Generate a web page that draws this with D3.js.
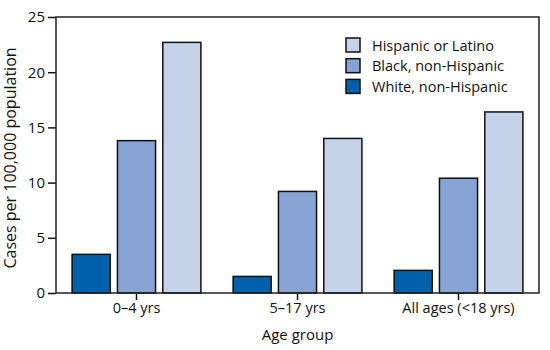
<!DOCTYPE html>
<html lang="en">
<head>
<meta charset="utf-8">
<script src="https://d3js.org/d3.v7.min.js"></script>
<style>
  body { margin: 0; background: #fff; }
  text { font-family: "Open Sans", "Noto Sans", sans-serif; fill: #111; }
</style>
</head>
<body>
<svg id="chart" width="550" height="350"></svg>
<script>
// data
const ageGroups = ["0–4 yrs", "5–17 yrs", "All ages (<18 yrs)"];
const groups = ["White, non-Hispanic", "Black, non-Hispanic", "Hispanic or Latino"];
const white = [3.5, 1.5, 2.05];
const black = [13.8, 9.2, 10.4];
const hispanic = [22.7, 14.0, 16.4];
const yTicks = [0, 5, 10, 15, 20, 25];

const colors = ["#0060ab", "#87a3d4", "#c6d2ea"];
const series = [white, black, hispanic];

const margin = {top: 17, right: 11, bottom: 57, left: 56},
    width = 550 - margin.left - margin.right,
    height = 350 - margin.top - margin.bottom;

const svg = d3.select("#chart")
  .append("g")
    .attr("transform", `translate(${margin.left},${margin.top})`);

const x = d3.scaleBand().domain(ageGroups).range([0, width]).paddingInner(0.2).paddingOuter(0.1);
const xSub = d3.scaleBand().domain(groups).range([0, x.bandwidth()]).paddingInner(0.16);
const y = d3.scaleLinear().domain([0, 25]).range([height, 0]);

// y axis
const yAxis = svg.append("g")
  .call(d3.axisLeft(y).tickValues(yTicks).tickSize(8).tickPadding(3));
yAxis.select(".domain").remove();
yAxis.selectAll("line").attr("stroke", "#111").attr("stroke-width", 1.5);
yAxis.selectAll("text").style("font-size", "15px").attr("fill", "#111")
  .style("font-family", "'Open Sans', sans-serif");

// x axis ticks
const xAxis = svg.append("g")
  .attr("transform", `translate(0,${height})`)
  .call(d3.axisBottom(x).tickSize(7).tickPadding(3));
xAxis.select(".domain").remove();
xAxis.selectAll("line").attr("stroke", "#111").attr("stroke-width", 1.5);
xAxis.selectAll("text").style("font-size", "14.5px").attr("fill", "#111")
  .style("font-family", "'Open Sans', sans-serif");

// bars
const data = [];
ageGroups.forEach((a, i) => {
  groups.forEach((g, j) => data.push({age: a, group: g, value: series[j][i], color: colors[j]}));
});

svg.selectAll(".bar")
  .data(data)
  .join("rect")
    .attr("class", "bar")
    .attr("x", d => x(d.age) + xSub(d.group))
    .attr("width", xSub.bandwidth())
    .attr("y", d => y(d.value))
    .attr("height", d => height - y(d.value))
    .attr("fill", d => d.color)
    .attr("stroke", "#111")
    .attr("stroke-width", 1.5);

// frame
svg.append("rect")
  .attr("width", width).attr("height", height)
  .attr("fill", "none").attr("stroke", "#222").attr("stroke-width", 1.5);

// legend (reversed order)
const legend = svg.append("g").attr("transform", `translate(${290},${21})`);
groups.slice().reverse().forEach((g, i) => {
  const row = legend.append("g").attr("transform", `translate(0,${i * 20.7})`);
  row.append("rect").attr("width", 14).attr("height", 14)
    .attr("fill", colors[2 - i]).attr("stroke", "#111").attr("stroke-width", 1.5);
  row.append("text").attr("x", 26).attr("y", 12.5).style("font-size", "14.5px").text(g);
});

// axis titles
svg.append("text")
  .attr("x", width / 2).attr("y", height + 47)
  .attr("text-anchor", "middle").style("font-size", "15px").text("Age group");

svg.append("text")
  .attr("transform", `translate(${-40},${height / 2 + 3}) rotate(-90)`)
  .attr("text-anchor", "middle").style("font-size", "16px").text("Cases per 100,000 population");
</script>
</body>
</html>
